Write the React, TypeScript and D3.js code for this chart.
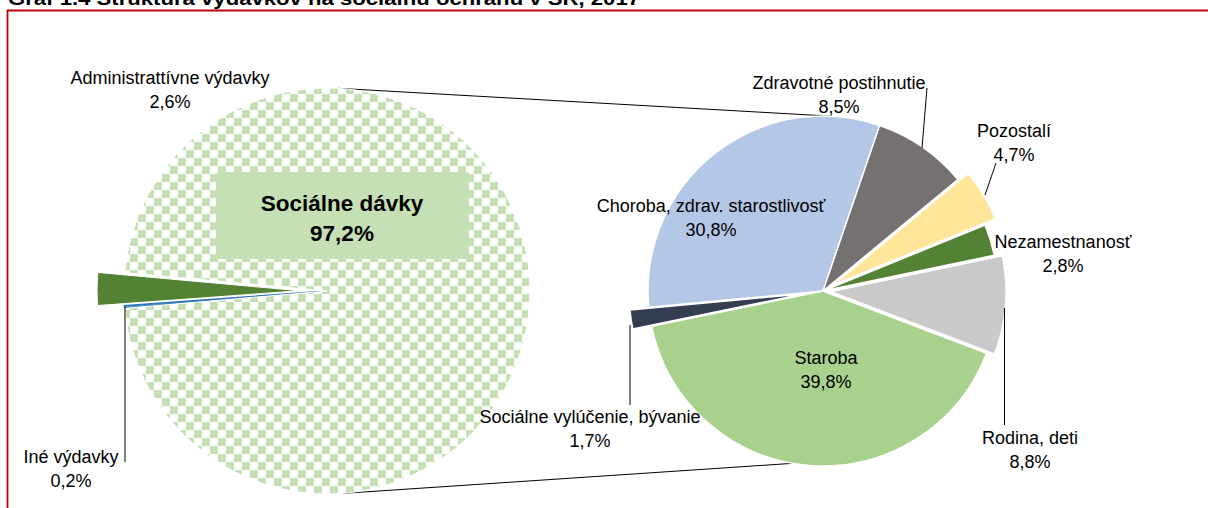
import React from "react";
import * as d3 from "d3";

const title = "Graf 1.4 Štruktúra výdavkov na sociálnu ochranu v SR, 2017";

// Left pie: structure of total expenditure
const leftCategories = ["Iné výdavky", "Administrattívne výdavky", "Sociálne dávky"];
const leftValues = [0.2, 2.6, 97.2];
const leftLabels = ["0,2%", "2,6%", "97,2%"];

// Right pie: structure of social benefits (share of total)
const rightCategories = [
  "Choroba, zdrav. starostlivosť",
  "Zdravotné postihnutie",
  "Pozostalí",
  "Nezamestnanosť",
  "Rodina, deti",
  "Staroba",
  "Sociálne vylúčenie, bývanie",
];
const rightValues = [30.8, 8.5, 4.7, 2.8, 8.8, 39.8, 1.7];
const rightLabels = ["30,8%", "8,5%", "4,7%", "2,8%", "8,8%", "39,8%", "1,7%"];

const rightColors = ["#b4c7e7", "#767171", "#ffe699", "#548235", "#c9c9c9", "#a9d18e", "#333f50"];
const rightExplode = [0, 0, 12, 0, 8, 0, 19];
const leftColors = ["#5b9bd5", "#548235", "url(#checker)"];
const leftExplode = [0, 27, 0];

const deg = Math.PI / 180;

export default function App() {
  const W = 1208, H = 508;
  const L = { cx: 327, cy: 291, r: 203 };
  const R = { cx: 823, cy: 291, r: 175 };

  const leftPie = d3.pie<number>().sort(null).value((d) => d)
    .startAngle(265.1 * deg).endAngle(265.1 * deg + 2 * Math.PI);
  const leftArcs = leftPie(leftValues);
  const leftArc = d3.arc<d3.PieArcDatum<number>>().innerRadius(0).outerRadius(L.r);

  const rightPie = d3.pie<number>().sort(null).value((d) => d)
    .startAngle(-95.3 * deg).endAngle(-95.3 * deg + 2 * Math.PI);
  const rightArcs = rightPie(rightValues);
  const rightArc = d3.arc<d3.PieArcDatum<number>>().innerRadius(0).outerRadius(R.r);

  const off = (a: d3.PieArcDatum<number>, d: number) => {
    const m = (a.startAngle + a.endAngle) / 2;
    return [Math.sin(m) * d, -Math.cos(m) * d];
  };
  const pt = (c: { cx: number; cy: number; r: number }, angDeg: number) => [
    c.cx + Math.sin(angDeg * deg) * c.r,
    c.cy - Math.cos(angDeg * deg) * c.r,
  ];

  const lt = pt(L, 3), rt = pt(R, 2.6);
  const lb = pt(L, 176), rb = pt(R, 190);

  const font = "'Liberation Sans', Arial, sans-serif";
  const lab = (x: number, y1: number, t1: string, t2: string, key: string) => (
    <g key={key} fontFamily={font} fontSize={18} fill="#000" textAnchor="middle">
      <text x={x} y={y1} dy="0.35em">{t1}</text>
      <text x={x} y={y1 + 24} dy="0.35em">{t2}</text>
    </g>
  );

  return (
    <svg width={W} height={H} style={{ position: "absolute", left: 0, top: 0, background: "#fff" }}>
      <defs>
        <pattern id="checker" patternUnits="userSpaceOnUse" width={16} height={16} x={3} y={3}>
          <rect width={16} height={16} fill="#ffffff" />
          <rect width={8} height={8} fill="#c5e0b4" />
          <rect x={8} y={8} width={8} height={8} fill="#c5e0b4" />
        </pattern>
      </defs>
      <rect width={W} height={H} fill="#fff" />
      {/* title (cut off at top, as in the source) */}
      <text x={8} y={5} fontFamily={font} fontWeight="bold" fontSize={19} textLength={632} lengthAdjust="spacingAndGlyphs">{title}</text>
      {/* frame */}
      <path d={`M7.5,${H} V10.5 H${W}`} fill="none" stroke="#c00000" strokeWidth={1.8} />

      {/* connector lines */}
      <line x1={lt[0]} y1={lt[1]} x2={rt[0]} y2={rt[1]} stroke="#000" strokeWidth={1} />
      <line x1={lb[0]} y1={lb[1]} x2={rb[0]} y2={rb[1]} stroke="#000" strokeWidth={1} />

      {/* left pie */}
      <g transform={`translate(${L.cx},${L.cy})`}>
        {leftArcs.map((a, i) => {
          const [dx, dy] = off(a, leftExplode[i]);
          return (
            <path key={leftCategories[i]} d={leftArc(a) || ""} transform={`translate(${dx},${dy})`}
              fill={leftColors[i]} stroke={i === 0 ? "#2e75b6" : "#fff"} strokeWidth={i === 0 ? 1.5 : 1} />
          );
        })}
      </g>
      {/* social benefits label box */}
      <rect x={216} y={172} width={253} height={87} rx={3} fill="#c5e0b4" />
      <g fontFamily={font} fontWeight="bold" fontSize={22.5} textAnchor="middle">
        <text x={342} y={203} dy="0.35em">{leftCategories[2]}</text>
        <text x={342} y={233} dy="0.35em">{leftLabels[2]}</text>
      </g>
      {lab(170, 78, leftCategories[1], leftLabels[1], "adm")}
      {lab(71, 457, leftCategories[0], leftLabels[0], "ine")}
      <line x1={125} y1={307} x2={125} y2={462} stroke="#000" strokeWidth={1} />

      {/* right pie */}
      <g transform={`translate(${R.cx},${R.cy})`}>
        {rightArcs.map((a, i) => {
          const [dx, dy] = off(a, rightExplode[i]);
          return (
            <path key={rightCategories[i]} d={rightArc(a) || ""} transform={`translate(${dx},${dy})`}
              fill={rightColors[i]} stroke="#fff" strokeWidth={1.5} strokeLinejoin="round" />
          );
        })}
      </g>

      {/* right labels */}
      {lab(711, 206, rightCategories[0], rightLabels[0], "r0")}
      {lab(839, 83, rightCategories[1], rightLabels[1], "r1")}
      {lab(1014, 131, rightCategories[2], rightLabels[2], "r2")}
      {lab(1063, 242, rightCategories[3], rightLabels[3], "r3")}
      {lab(1030, 438, rightCategories[4], rightLabels[4], "r4")}
      {lab(826, 358, rightCategories[5], rightLabels[5], "r5")}
      {lab(590, 417, rightCategories[6], rightLabels[6], "r6")}

      {/* leader lines */}
      <g stroke="#000" strokeWidth={1}>
        <line x1={927} y1={88} x2={922} y2={148} />
        <line x1={996} y1={163} x2={985} y2={195} />
        <line x1={1004.5} y1={308} x2={1004.5} y2={425} />
        <line x1={630} y1={325} x2={630} y2={405} />
      </g>
    </svg>
  );
}
